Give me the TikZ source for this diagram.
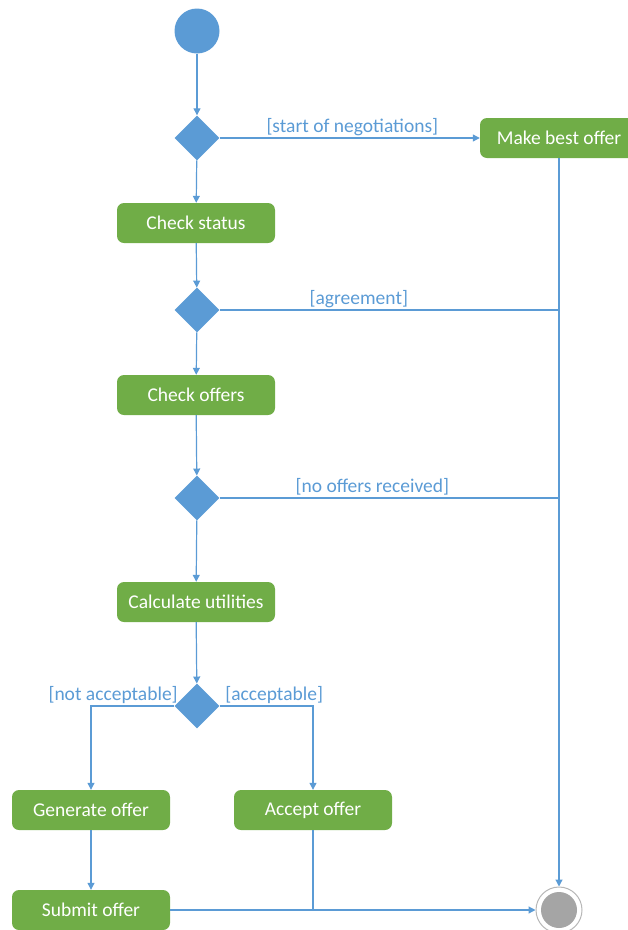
\documentclass[tikz,border=0pt]{standalone}
\usepackage{fontspec}
\setmainfont{Carlito}
\usetikzlibrary{arrows.meta,positioning,shapes.geometric}
\definecolor{actgreen}{HTML}{70AD47}
\definecolor{flowblue}{HTML}{5B9BD5}
\definecolor{endgray}{HTML}{A5A5A5}
\tikzset{
action/.style={rectangle,rounded corners=7pt,fill=actgreen,text=white,minimum width=158pt,minimum height=40pt,inner sep=0pt},
decision/.style={diamond,fill=flowblue,minimum width=45pt,minimum height=45pt,inner sep=0pt},
initial/.style={circle,fill=flowblue,minimum size=45pt,inner sep=0pt},
final/.style={circle,draw=endgray!80,line width=1pt,fill=white,minimum size=46pt,inner sep=0pt,
  path picture={\fill[endgray] (path picture bounding box.center) circle (18pt);}},
line/.style={draw=flowblue,line width=1.2pt},
flow/.style={line,-{Triangle[width=7pt,length=7pt]}},
guard/.style={text=flowblue,inner sep=2pt},
}
\tikzstyle{every node}=[font=\fontsize{19.5}{23}\selectfont]

\begin{document}
\begin{tikzpicture}[x=1pt,y=-1pt]
        \useasboundingbox (0,0) rectangle (628,930);

        % Nodes
        \node[initial] (start) at (197,31) {};
        \node[decision] (d1) at (197,138) {};
        \node[action] (best) at (559,138) {Make best offer};
        \node[action] (status) at (196,223) {Check status};
        \node[decision] (d2) at (197,310) {};
        \node[action] (offers) at (196,395) {Check offers};
        \node[decision] (d3) at (197,498) {};
        \node[action] (calc) at (196,602) {Calculate utilities};
        \node[decision] (d4) at (197,706) {};
        \node[action] (gen) at (91,810) {Generate offer};
        \node[action] (accept) at (313,810) {Accept offer};
        \node[action] (submit) at (91,910) {Submit offer};
        \node[final] (stop) at (559,910) {};
        \coordinate (join) at (accept |- submit);

        % Main flow
        \draw[flow] (start) -- (d1);
        \draw[flow] (d1) -- node[guard,above,pos=0.51] {[start of negotiations]} (best);
        \draw[flow] (d1) -- (status);
        \draw[flow] (status) -- (d2);
        \draw[flow] (d2) -- (offers);
        \draw[flow] (offers) -- (d3);
        \draw[flow] (d3) -- (calc);
        \draw[flow] (calc) -- (d4);

        % Exits to the end
        \draw[flow] (best) -- (stop);
        \draw[line] (d2) -- node[guard,above,pos=0.41] {[agreement]} (d2 -| best);
        \draw[line] (d3) -- node[guard,above,pos=0.45] {[no offers received]} (d3 -| best);

        % Branches
        \draw[flow] (d4.west) -| (gen)
        node[guard,pos=0,anchor=south east,xshift=6pt] {[not acceptable]};
        \draw[flow] (d4.east) -| (accept)
        node[guard,pos=0,anchor=south west,xshift=3pt] {[acceptable]};
        \draw[flow] (gen) -- (submit);
        \draw[flow] (submit) -- (stop);
        \draw[line] (accept) -- (join);

\end{tikzpicture}
\end{document}
